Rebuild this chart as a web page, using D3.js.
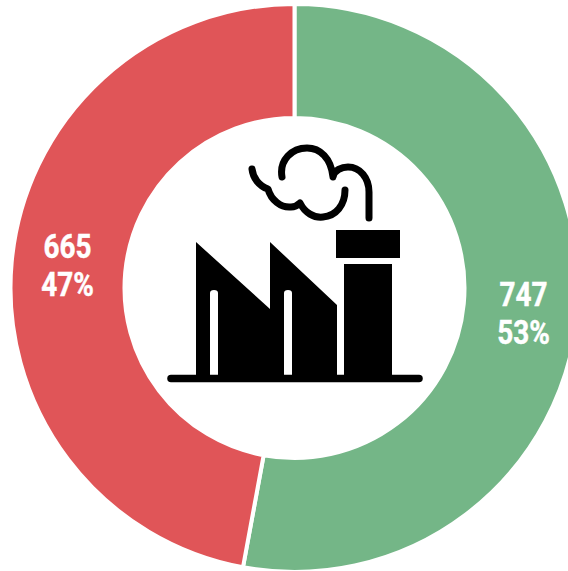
<!DOCTYPE html>
<html lang="en">
<head>
<meta charset="UTF-8">
<title>Factory donut</title>
<script src="https://cdn.jsdelivr.net/npm/d3@7"></script>
<style>
    html, body { margin: 0; padding: 0; background: #fff; }
    svg { display: block; }
    .label { font-family: "Roboto", "Liberation Sans Narrow", sans-serif; font-weight: 700; font-size: 34px; fill: #fff; stroke: #fff; stroke-width: 0.5px; text-anchor: middle; }
</style>
</head>
<body>
<script>
    // Data
    const counts = [747, 665];
    const percents = ["53%", "47%"];
    const colors = ["#74b687", "#e05558"];

    const width = 568, height = 571;
    const cx = 294.5, cy = 288;
    const outerR = 284, innerR = 170;

    const svg = d3.select("body").append("svg")
        .attr("width", width)
        .attr("height", height)
        .attr("viewBox", `0 0 ${width} ${height}`);

    // Donut
    const pie = d3.pie().sort(null)(counts);
    const arc = d3.arc().innerRadius(innerR).outerRadius(outerR);

    const ring = svg.append("g").attr("transform", `translate(${cx},${cy})`);
    ring.selectAll("path")
        .data(pie)
        .enter()
        .append("path")
        .attr("d", arc)
        .attr("fill", (d, i) => colors[i])
        .attr("stroke", "#fff")
        .attr("stroke-width", 4);

    // Labels sit on the arc centroid, nudged a little
    const nudge = [[3, 4], [-1, -2]];
    const lines = [counts, percents];
    pie.forEach((d, i) => {
        const [x, y] = arc.centroid(d);
        lines.forEach((line, j) => {
            ring.append("text")
                .attr("class", "label")
                .attr("transform", `translate(${x + nudge[i][0]},${y + nudge[i][1] + (j === 0 ? -7 : 31)}) scale(0.82,1)`)
                .text(line[i]);
        });
    });

    // Factory icon
    const icon = svg.append("g");

    // sheds
    icon.append("path")
        .attr("d", "M196,242 L270,309 L270,242 L337,305 L337,376 L196,376 Z")
        .attr("fill", "#000");
    icon.append("path")
        .attr("d", "M210,376 V293 Q210,290 214,290 Q218,290 218,293 V376 Z M284,376 V293 Q284,290 288,290 Q292,290 292,293 V376 Z")
        .attr("fill", "#fff");

    // chimney
    icon.append("rect").attr("x", 344).attr("y", 264).attr("width", 48).attr("height", 112).attr("fill", "#000");
    icon.append("rect").attr("x", 336).attr("y", 230).attr("width", 64).attr("height", 28).attr("fill", "#000");

    // ground line
    icon.append("line")
        .attr("x1", 171).attr("y1", 378.5).attr("x2", 419).attr("y2", 378.5)
        .attr("stroke", "#000").attr("stroke-width", 7.5).attr("stroke-linecap", "round");

    // smoke
    icon.append("path")
        .attr("d", "M282,177 C279,160 292,148 307,148 C320,148 331,158 333,177 C334,170 342,167 348,167 C360,167 369,178 369,192 V218 M252,169 C253,178 259,186 268,189 C271,200 281,208 291,207 C295,207 298,205 300,203 C305,213 314,218 323,217 C336,216 345,205 345,190")
        .attr("fill", "none")
        .attr("stroke", "#000")
        .attr("stroke-width", 7)
        .attr("stroke-linecap", "round")
        .attr("stroke-linejoin", "round");
</script>
</body>
</html>
